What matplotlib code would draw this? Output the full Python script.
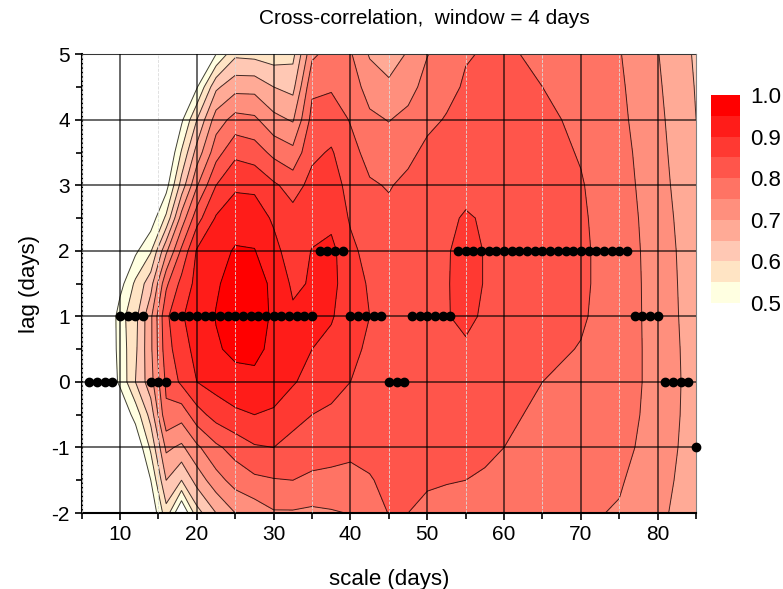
import numpy as np
import matplotlib.pyplot as plt

plt.rcParams['font.family'] = ['Liberation Sans', 'DejaVu Sans']
plt.rcParams['axes.unicode_minus'] = False

# scale (days) of each column and lag (days) of each row
scales = [5, 8, 10, 12, 14, 16, 18, 20, 22.5, 25, 27.5, 30, 32.5, 35, 37.5, 40,
          42.5, 45, 47.5, 50, 52.5, 55, 57.5, 60, 65, 70, 75, 80, 85]
lags = [-2, -1.5, -1, -0.5, 0, 0.5, 1, 1.5, 2, 2.5, 3, 3.5, 4, 4.5, 5]

# correlation, one list per scale, lag -2 ... 5
corr_by_scale = [
    [.30, .30, .30, .30, .30, .30, .30, .30, .30, .30, .30, .30, .30, .30, .30],
    [.30, .30, .32, .38, .45, .44, .42, .38, .35, .30, .30, .30, .30, .30, .30],
    [.30, .32, .38, .45, .51, .52, .53, .48, .42, .38, .35, .32, .30, .30, .30],
    [.32, .38, .45, .52, .60, .59, .585, .56, .49, .43, .38, .35, .32, .30, .30],
    [.45, .50, .56, .62, .68, .69, .69, .63, .545, .47, .41, .37, .34, .32, .30],
    [.58, .65, .71, .79, .81, .83, .84, .79, .69, .56, .48, .43, .38, .34, .30],
    [.44, .60, .69, .77, .86, .88, .895, .865, .81, .72, .62, .555, .49, .44, .38],
    [.58, .67, .74, .83, .90, .915, .925, .915, .905, .83, .745, .67, .60, .495, .42],
    [.65, .73, .79, .87, .92, .945, .952, .945, .93, .905, .85, .78, .725, .64, .50],
    [.70, .77, .82, .89, .935, .96, .97, .967, .955, .925, .893, .838, .768, .683, .59],
    [.72, .79, .845, .90, .94, .96, .965, .96, .952, .925, .89, .825, .76, .683, .585],
    [.745, .797, .85, .893, .925, .94, .945, .945, .915, .893, .858, .787, .715, .65, .575],
    [.745, .80, .835, .865, .905, .91, .91, .89, .875, .868, .83, .765, .695, .635, .585],
    [.74, .79, .825, .85, .88, .90, .91, .905, .902, .88, .865, .84, .817, .79, .74],
    [.745, .79, .815, .845, .86, .885, .905, .915, .915, .885, .87, .855, .825, .795, .77],
    [.752, .79, .808, .835, .85, .86, .87, .87, .86, .845, .835, .815, .797, .775, .755],
    [.77, .797, .812, .825, .835, .843, .85, .845, .835, .82, .805, .785, .76, .73, .695],
    [.802, .81, .818, .825, .83, .835, .84, .835, .825, .81, .797, .775, .748, .71, .675],
    [.80, .81, .82, .828, .835, .84, .845, .845, .84, .83, .81, .79, .765, .73, .705],
    [.79, .805, .818, .83, .84, .843, .845, .845, .843, .835, .82, .81, .79, .77, .748],
    [.787, .802, .816, .83, .84, .845, .848, .847, .846, .84, .828, .818, .803, .788, .772],
    [.785, .80, .815, .83, .838, .845, .858, .865, .865, .855, .835, .825, .815, .805, .797],
    [.78, .795, .808, .82, .83, .837, .845, .848, .848, .845, .835, .828, .82, .812, .803],
    [.776, .79, .80, .81, .82, .828, .835, .84, .84, .837, .832, .826, .82, .812, .805],
    [.766, .775, .782, .79, .80, .81, .82, .825, .825, .822, .82, .815, .81, .80, .793],
    [.757, .765, .775, .785, .792, .798, .805, .808, .808, .806, .803, .797, .79, .782, .775],
    [.746, .755, .765, .772, .778, .778, .778, .777, .777, .775, .772, .768, .762, .758, .753],
    [.712, .72, .728, .731, .731, .731, .73, .73, .728, .725, .72, .716, .712, .707, .702],
    [.67, .673, .675, .678, .68, .678, .675, .672, .67, .665, .66, .655, .65, .647, .643],
]

# lag of the maximum correlation for every scale 6 ... 85
dot_scales = list(range(6, 86))
dot_lags = ([0] * 4 + [1] * 4 + [0] * 3 + [1] * 19 + [2] * 4 + [1] * 5 + [0] * 3
            + [1] * 6 + [2] * 23 + [1] * 4 + [0] * 4 + [-1])

levels = [0.5, 0.55, 0.6, 0.65, 0.7, 0.75, 0.8, 0.85, 0.9, 0.95, 1.0]
band_colors = ['#ffffe1', '#ffe4c4', '#ffc8b4', '#ffaa96', '#ff8f7d',
               '#ff7364', '#ff554b', '#ff3932', '#ff1c19', '#ff0000']

fig = plt.figure(figsize=(7.83, 5.89), dpi=100)
ax = fig.add_axes([0.1043, 0.129, 0.7847, 0.779])

Z = np.array(corr_by_scale).T
cf = ax.contourf(scales, lags, Z, levels=levels, colors=band_colors)
ax.contour(scales, lags, Z, levels=levels, colors='k', linewidths=0.7, alpha=0.75)

ax.plot(dot_scales, dot_lags, 'o', color='k', ms=6, zorder=4, clip_on=False)

ax.set_xlim(5, 85)
ax.set_ylim(-2, 5)
ax.set_xticks(range(10, 81, 10))
ax.set_xticks(range(5, 86, 5), minor=True)
ax.set_yticks(range(-2, 6))
ax.set_yticks(np.arange(-2, 5.1, 0.5), minor=True)
ax.set_axisbelow(False)
ax.grid(which='major', color='k', lw=1.1, alpha=0.75)
ax.grid(which='minor', axis='x', color='#dcdcdc', ls='--', lw=0.6)
ax.tick_params(which='both', direction='out', labelsize=15, width=1.2)
ax.tick_params(which='major', length=5)
ax.tick_params(which='minor', length=4)
for side in ['left', 'bottom']:
    ax.spines[side].set_linewidth(1.5)
for side in ['top', 'right']:
    ax.spines[side].set_color('#808080')

fig.text(0.5415, 0.969, 'Cross-correlation,  window = 4 days', fontsize=15,
         ha='center', va='center')
ax.set_xlabel('scale (days)', fontsize=16, labelpad=18)
ax.set_ylabel('lag (days)', fontsize=16, labelpad=8)

cax = fig.add_axes([0.908, 0.4856, 0.0375, 0.353])
cb = fig.colorbar(cf, cax=cax, ticks=[0.5, 0.6, 0.7, 0.8, 0.9, 1.0], format='%.1f')
cb.outline.set_visible(False)
cax.tick_params(length=0, labelsize=16, pad=7)

fig.savefig('out.png', dpi=100)
